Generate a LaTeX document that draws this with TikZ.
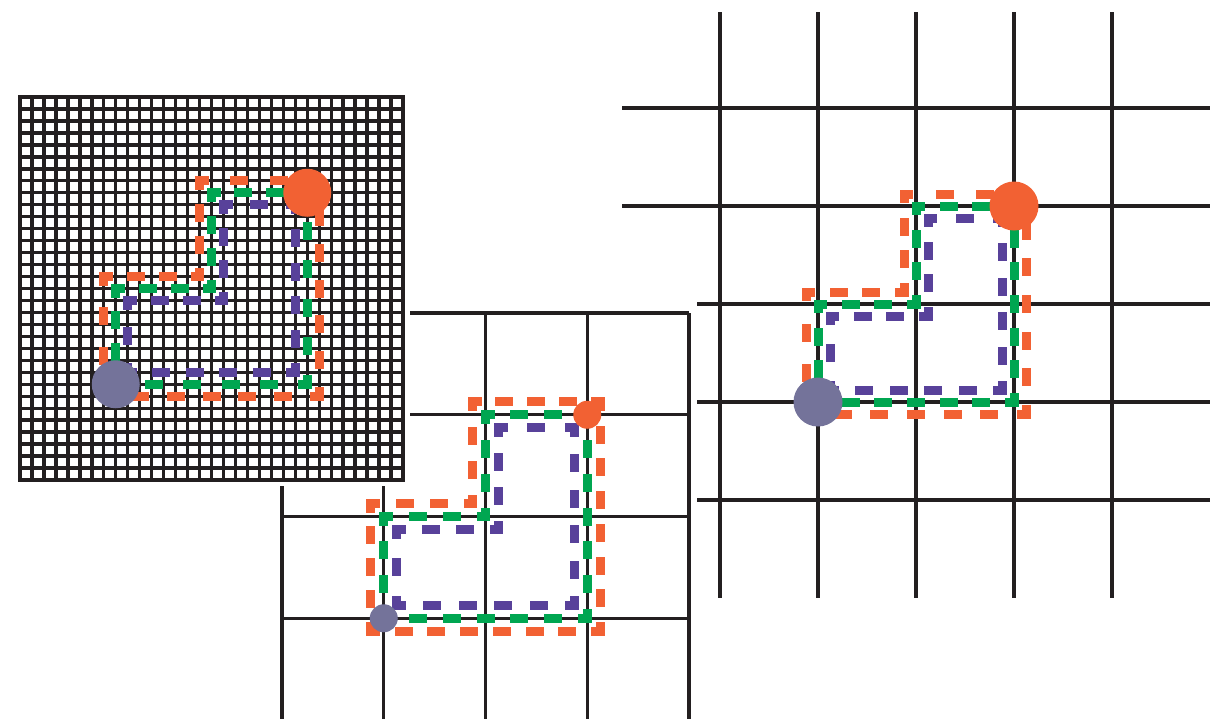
\documentclass[tikz,border=0pt]{standalone}
\usepackage{tikz}
\definecolor{pathorange}{HTML}{F26133}
\definecolor{pathgreen}{HTML}{00A651}
\definecolor{pathpurple}{HTML}{58419A}
\definecolor{dotgrey}{HTML}{74739A}
\definecolor{gridblack}{HTML}{231F20}

% one side of a loop, dashes fitted to its two corners
\newcommand{\loopside}[5]{%
  \pgfmathsetmacro{\sidelen}{veclen((#4)-(#2),(#5)-(#3))*0.5}%
  \pgfmathsetmacro{\sideper}{\sidelen/max(1,round(\sidelen/17.5))}%
  \pgfmathsetmacro{\sidegap}{\sideper-4.5}%
  \draw[looppath, #1, dash pattern=on 4.5pt off \sidegap pt, dash phase=2.25pt]
    (#2,#3) -- (#4,#5);%
}
% L-shaped loop: colour, corner x, corner y, step, offset (+ in, - out)
\newcommand{\lloop}[5]{%
  \pgfmathsetmacro{\lxa}{#2+(#5)}%
  \pgfmathsetmacro{\lxb}{#2+#4+(#5)}%
  \pgfmathsetmacro{\lxc}{#2+2*#4-(#5)}%
  \pgfmathsetmacro{\lya}{#3-(#5)}%
  \pgfmathsetmacro{\lyb}{#3-#4+(#5)}%
  \pgfmathsetmacro{\lyc}{#3-2*#4+(#5)}%
  \loopside{#1}{\lxa}{\lya}{\lxa}{\lyb}%
  \loopside{#1}{\lxa}{\lyb}{\lxb}{\lyb}%
  \loopside{#1}{\lxb}{\lyb}{\lxb}{\lyc}%
  \loopside{#1}{\lxb}{\lyc}{\lxc}{\lyc}%
  \loopside{#1}{\lxc}{\lyc}{\lxc}{\lya}%
  \loopside{#1}{\lxc}{\lya}{\lxa}{\lya}%
}

\begin{document}
\begin{tikzpicture}[x=0.5pt, y=-0.5pt,
  gridline/.style={draw=gridblack, line width=1.55pt},
  looppath/.style={line width=4.5pt, line cap=rect},
  startdot/.style={circle, fill=dotgrey, inner sep=0pt},
  enddot/.style={circle, fill=pathorange, inner sep=0pt},
]
  \useasboundingbox (0,0) rectangle (1225,718);

  % coarse grid (right)
  \foreach \k in {0,...,4} {
    \draw[gridline] ({720+98*\k},12) -- ({720+98*\k},598);
    \draw[gridline] (622,{108+98*\k}) -- (1210,{108+98*\k});
  }
  \lloop{pathorange}{818}{402}{98}{-12}
  \lloop{pathgreen}{818}{402}{98}{0}
  \lloop{pathpurple}{818}{402}{98}{12}
  \node[startdot, minimum size=24.5pt] (coarsestart) at (818,402) {};
  \node[enddot, minimum size=24.5pt] (coarseend) at (1014,206) {};

  % medium grid (bottom)
  \fill[white] (274,301) rectangle (697,725);
  \foreach \k in {0,...,4}
    \draw[gridline] ({282+101.75*\k},313) -- ({282+101.75*\k},725);
  \foreach \k in {0,...,3}
    \draw[gridline] (282,{313+101.75*\k}) -- (689,{313+101.75*\k});
  \lloop{pathorange}{383.75}{618.25}{101.75}{-13}
  \lloop{pathgreen}{383.75}{618.25}{101.75}{0}
  \lloop{pathpurple}{383.75}{618.25}{101.75}{13}
  \node[startdot, minimum size=14pt] (mediumstart) at (383.75,618.25) {};
  \node[enddot, minimum size=14pt] (mediumend) at (587.25,414.75) {};

  % fine grid (top left)
  \fill[white] (13,90) rectangle (410,486);
  \foreach \k in {0,...,32} {
    \draw[gridline, line width=1.7pt, line cap=rect] ({20+11.97*\k},97) -- ({20+11.97*\k},480);
    \draw[gridline, line width=1.7pt, line cap=rect] (20,{97+11.97*\k}) -- (403,{97+11.97*\k});
  }
  \lloop{pathorange}{115.75}{384.25}{95.75}{-12}
  \lloop{pathgreen}{115.75}{384.25}{95.75}{0}
  \lloop{pathpurple}{115.75}{384.25}{95.75}{12}
  \node[startdot, minimum size=24pt] (finestart) at (115.75,384.25) {};
  \node[enddot, minimum size=24pt] (fineend) at (307.25,192.75) {};
\end{tikzpicture}
\end{document}
